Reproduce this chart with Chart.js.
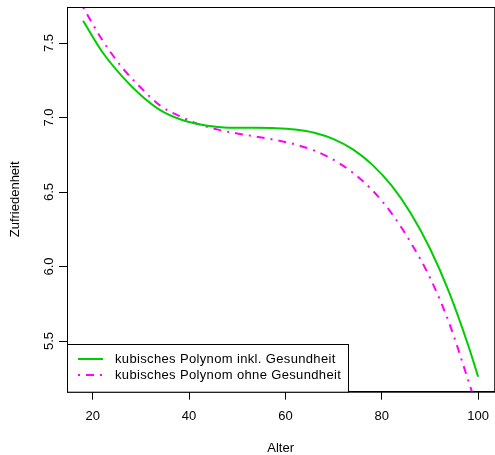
<!DOCTYPE html>
<html lang="de">
<head>
  <meta charset="UTF-8" />
  <title>Zufriedenheit nach Alter</title>
  <script src="https://cdn.jsdelivr.net/npm/chart.js"></script>
  <style>
    body {
      margin: 0;
      background: #fff;
      overflow: hidden;
    }
    .chart-box {
      position: relative;
      width: 499px;
      height: 455px;
    }
  </style>
</head>
<body>
  <div class="chart-box">
    <canvas id="fitChart" width="499" height="455"></canvas>
  </div>

  <script>
    // Alter (Stützstellen der beiden Kurven)
    const ages = [18, 22, 26, 30, 34, 38, 42, 46, 50, 54, 58, 62, 66, 70, 74, 78, 82, 86, 90, 94, 98, 100];
    // kubisches Polynom inkl. Gesundheit
    const withHealth = [7.65, 7.44, 7.28, 7.15, 7.05, 6.99, 6.955, 6.937, 6.931, 6.931, 6.929, 6.92,
                        6.898, 6.855, 6.786, 6.684, 6.544, 6.358, 6.121, 5.825, 5.465, 5.26];
    // kubisches Polynom ohne Gesundheit
    const withoutHealth = [7.74, 7.52, 7.34, 7.2, 7.08, 7.01, 6.956, 6.919, 6.893, 6.872, 6.849, 6.82,
                           6.778, 6.716, 6.63, 6.513, 6.359, 6.162, 5.925, 5.62, 5.23, 5.03];
    const seriesLabels = ['kubisches Polynom inkl. Gesundheit', 'kubisches Polynom ohne Gesundheit'];
    const xTicks = [20, 40, 60, 80, 100];
    const yTicks = [5.5, 6.0, 6.5, 7.0, 7.5];

    const FONT = 'Arial, "Liberation Sans", sans-serif';
    const FONT_SIZE = 13;

    function toPoints(values) {
      return ages.map((a, i) => ({ x: a, y: values[i] }));
    }

    // Rahmen, gedrehte y-Beschriftung und Legende im Plotbereich
    const rPlotExtras = {
      id: 'rPlotExtras',
      afterDatasetsDraw(chart) {
        const { ctx, chartArea } = chart;
        const yScale = chart.scales.y;
        ctx.save();

        // Rahmen um den Plot
        ctx.strokeStyle = '#000';
        ctx.lineWidth = 1;
        ctx.strokeRect(chartArea.left + 0.5, chartArea.top + 0.5,
                       chartArea.right - chartArea.left, chartArea.bottom - chartArea.top);

        // y-Achsenwerte senkrecht
        ctx.fillStyle = '#000';
        ctx.font = FONT_SIZE + 'px ' + FONT;
        ctx.textAlign = 'center';
        ctx.textBaseline = 'alphabetic';
        yScale.ticks.forEach(t => {
          const py = yScale.getPixelForValue(t.value);
          ctx.save();
          ctx.translate(52.5, py);
          ctx.rotate(-Math.PI / 2);
          ctx.fillText(t.value.toFixed(1), 0, 0);
          ctx.restore();
        });

        // Legende unten links
        const lx = chartArea.left + 0.5;
        const ly = 344.5;
        const lw = 281;
        const lh = chartArea.bottom - 344;
        ctx.fillStyle = '#fff';
        ctx.fillRect(lx, ly, lw, lh);
        ctx.strokeStyle = '#000';
        ctx.strokeRect(lx, ly, lw, lh);

        ctx.letterSpacing = '0.35px';
        chart.data.datasets.forEach((ds, i) => {
          const rowY = 359 + i * 16;
          ctx.beginPath();
          ctx.strokeStyle = ds.borderColor;
          ctx.lineWidth = ds.borderWidth;
          ctx.setLineDash(ds.borderDash || []);
          ctx.moveTo(78, rowY);
          ctx.lineTo(103, rowY);
          ctx.stroke();
          ctx.setLineDash([]);
          ctx.fillStyle = '#000';
          ctx.textAlign = 'left';
          ctx.textBaseline = 'middle';
          ctx.fillText(ds.label, 115, rowY);
        });

        ctx.restore();
      }
    };

    const ctx = document.getElementById('fitChart').getContext('2d');
    const fitChart = new Chart(ctx, {
      type: 'line',
      data: {
        datasets: [
          {
            label: seriesLabels[0],
            data: toPoints(withHealth),
            borderColor: '#00CD00',
            borderWidth: 2,
            pointRadius: 0,
            cubicInterpolationMode: 'monotone',
            fill: false
          },
          {
            label: seriesLabels[1],
            data: toPoints(withoutHealth),
            borderColor: '#FF00FF',
            borderWidth: 2,
            borderDash: [2, 6, 8, 6],
            pointRadius: 0,
            cubicInterpolationMode: 'monotone',
            fill: false
          }
        ]
      },
      options: {
        responsive: false,
        animation: false,
        layout: { padding: { top: 7, right: 0, left: 0, bottom: 0 } },
        plugins: {
          legend: { display: false },
          tooltip: { enabled: false }
        },
        scales: {
          x: {
            type: 'linear',
            min: 14.66,
            max: 103.34,
            afterBuildTicks: scale => { scale.ticks = xTicks.map(v => ({ value: v })); },
            afterFit: scale => { scale.height = 63.3; },
            border: { display: true, color: '#000', width: 1 },
            grid: { drawOnChartArea: false, drawTicks: true, tickLength: 8, tickColor: '#000', tickWidth: 1 },
            ticks: {
              color: '#000',
              padding: 10,
              maxRotation: 0,
              font: { family: FONT, size: FONT_SIZE, lineHeight: 1 }
            },
            title: {
              display: true,
              text: 'Alter',
              color: '#000',
              padding: 0,
              font: { family: FONT, size: FONT_SIZE, lineHeight: 1 }
            }
          },
          y: {
            type: 'linear',
            min: 5.16,
            max: 7.742,
            afterBuildTicks: scale => { scale.ticks = yTicks.map(v => ({ value: v })); },
            afterFit: scale => { scale.width = 67; },
            border: { display: true, color: '#000', width: 1 },
            grid: { drawOnChartArea: false, drawTicks: true, tickLength: 8, tickColor: '#000', tickWidth: 1 },
            ticks: { display: false },
            title: {
              display: true,
              text: 'Zufriedenheit',
              color: '#000',
              padding: { top: 9, bottom: 0 },
              font: { family: FONT, size: FONT_SIZE, lineHeight: 1 }
            }
          }
        }
      },
      plugins: [rPlotExtras]
    });
  </script>
</body>
</html>
